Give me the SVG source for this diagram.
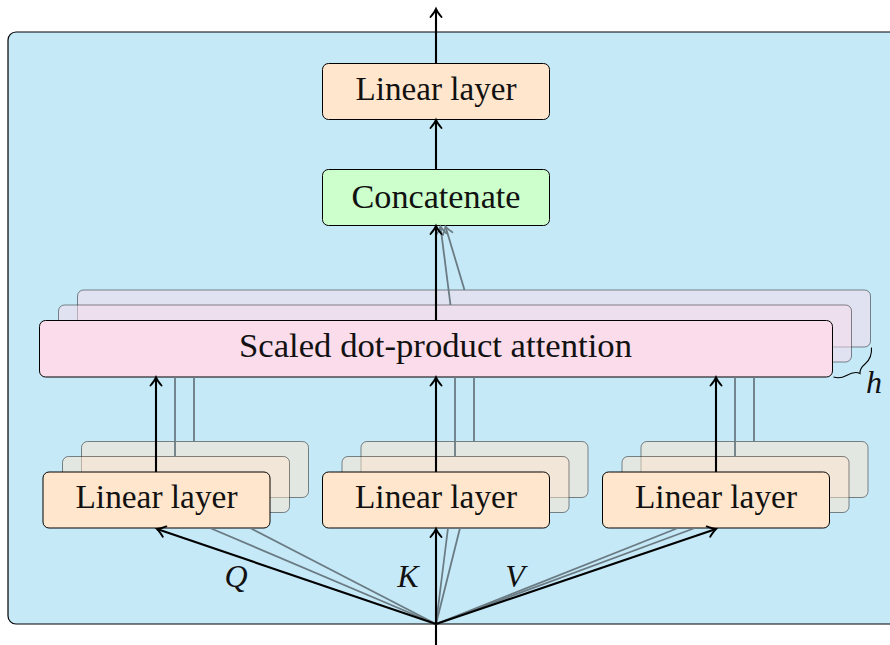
<svg xmlns="http://www.w3.org/2000/svg" width="890" height="645" viewBox="0 0 890 645">
  <style>
    .panel { fill: #c6e9f8; stroke: #000; stroke-width: 1.2; }
    .box { stroke: #000; stroke-width: 1; }
    .ghost { fill-opacity: 0.5; stroke-opacity: 0.45; }
    .linear { fill: #ffe6cc; }
    .concat { fill: #ccffcc; }
    .attn { fill: #fadcea; }
    .txt { font-family: "Liberation Serif", "Times New Roman", serif; font-size: 33px; fill: #111; text-anchor: middle; }
    .lab { font-style: italic; font-size: 32px; }
    .main { fill: none; stroke: #000; stroke-width: 2.1; }
    .main-arrow { marker-end: url(#arrow); }
    .side { fill: none; stroke: #6a7b83; stroke-width: 1.8; }
    .side-arrow { marker-end: url(#arrow-gray); }
    .brace { fill: none; stroke: #000; stroke-width: 1.1; }
  </style>
  <defs>
    <marker id="arrow" markerUnits="userSpaceOnUse" markerWidth="18" markerHeight="18" viewBox="-9 -9 18 18" refX="0" refY="0" orient="auto" overflow="visible">
      <path d="M-8,-5.5 Q-3,-1.3 0,0 Q-3,1.3 -8,5.5" fill="none" stroke="#000" stroke-width="1.9" stroke-linecap="round"/>
    </marker>
    <marker id="arrow-gray" markerUnits="userSpaceOnUse" markerWidth="18" markerHeight="18" viewBox="-9 -9 18 18" refX="0" refY="0" orient="auto" overflow="visible">
      <path d="M-7.5,-5 Q-2.8,-1.2 0,0 Q-2.8,1.2 -7.5,5" fill="none" stroke="#6a7b83" stroke-width="1.7" stroke-linecap="round"/>
    </marker>
  </defs>

  <!-- multi-head attention block -->
  <rect id="panel" class="panel" x="8" y="32" width="900" height="592" rx="8"/>

  <!-- output projection -->
  <g id="out-linear">
    <rect class="box linear" x="322.5" y="63.5" width="227" height="56" rx="6"/>
    <text class="txt" x="436" y="100" textLength="161" lengthAdjust="spacingAndGlyphs">Linear layer</text>
  </g>

  <g id="concat">
    <rect class="box concat" x="322.5" y="169.5" width="227" height="56" rx="6"/>
    <text class="txt" x="436" y="208" textLength="169" lengthAdjust="spacingAndGlyphs">Concatenate</text>
  </g>

  <!-- h parallel attention heads -->
  <g id="attention">
    <rect class="box attn ghost" x="77.5" y="290" width="793" height="57" rx="6"/>
    <rect class="box attn ghost" x="58.5" y="305" width="793" height="57" rx="6"/>
    <rect class="box attn" x="39.5" y="320.5" width="793" height="56.5" rx="6"/>
    <text class="txt" x="435.5" y="357" textLength="393" lengthAdjust="spacingAndGlyphs">Scaled dot-product attention</text>
  </g>

  <g id="heads-brace">
    <path class="brace" d="M833.5,377 C838,378.5 842,378 846.5,375.5 C851,373 856,371.5 860,373.5 C859.5,370 862,366.5 865.5,363.5 C869.5,360 872,355 871.5,347.5"/>
    <text class="txt lab" x="874" y="393">h</text>
  </g>

  <!-- input projections -->
  <g id="linear-q">
    <rect class="box linear ghost" x="81.5" y="441.5" width="227" height="56" rx="6"/>
    <rect class="box linear ghost" x="62.5" y="456.5" width="227" height="56" rx="6"/>
    <rect class="box linear" x="43" y="472" width="227" height="56" rx="6"/>
    <text class="txt" x="156.5" y="508" textLength="162" lengthAdjust="spacingAndGlyphs">Linear layer</text>
  </g>

  <g id="linear-k">
    <rect class="box linear ghost" x="361" y="441.5" width="227" height="56" rx="6"/>
    <rect class="box linear ghost" x="342" y="456.5" width="227" height="56" rx="6"/>
    <rect class="box linear" x="322.5" y="472" width="227" height="56" rx="6"/>
    <text class="txt" x="436" y="508" textLength="162" lengthAdjust="spacingAndGlyphs">Linear layer</text>
  </g>

  <g id="linear-v">
    <rect class="box linear ghost" x="641" y="441.5" width="227" height="56" rx="6"/>
    <rect class="box linear ghost" x="622" y="456.5" width="227" height="56" rx="6"/>
    <rect class="box linear" x="602.5" y="472" width="227" height="56" rx="6"/>
    <text class="txt" x="716" y="508" textLength="162" lengthAdjust="spacingAndGlyphs">Linear layer</text>
  </g>

  <g id="connectors">
    <!-- input fan-out to Q, K, V projections -->
    <line class="main" x1="436" y1="645" x2="436" y2="624"/>
    <line class="side" x1="436" y1="624" x2="210" y2="528"/>
    <line class="side" x1="436" y1="624" x2="250" y2="528"/>
    <line class="side" x1="436" y1="624" x2="448" y2="528"/>
    <line class="side" x1="436" y1="624" x2="460" y2="528"/>
    <line class="side" x1="436" y1="624" x2="678" y2="528"/>
    <line class="side" x1="436" y1="624" x2="695" y2="528"/>
    <line class="main main-arrow" x1="436" y1="624" x2="157" y2="529"/>
    <line class="main main-arrow" x1="436" y1="624" x2="436" y2="529"/>
    <line class="main main-arrow" x1="436" y1="624" x2="716" y2="529"/>

    <!-- projections into attention heads -->
    <line class="side" x1="175" y1="456.5" x2="175" y2="377"/>
    <line class="side" x1="194" y1="441.5" x2="194" y2="377"/>
    <line class="side" x1="455" y1="456.5" x2="455" y2="377"/>
    <line class="side" x1="474" y1="441.5" x2="474" y2="377"/>
    <line class="side" x1="735" y1="456.5" x2="735" y2="377"/>
    <line class="side" x1="754" y1="441.5" x2="754" y2="377"/>
    <line class="main main-arrow" x1="156" y1="472" x2="156" y2="377.5"/>
    <line class="main main-arrow" x1="436" y1="472" x2="436" y2="377.5"/>
    <line class="main main-arrow" x1="716" y1="472" x2="716" y2="377.5"/>

    <!-- heads into concatenation -->
    <line class="side side-arrow" x1="450.5" y1="305" x2="440.5" y2="226.5"/>
    <line class="side side-arrow" x1="464.5" y1="290" x2="445.5" y2="226.5"/>
    <line class="main main-arrow" x1="436" y1="320.5" x2="436" y2="226"/>

    <!-- output path -->
    <line class="main main-arrow" x1="436" y1="169.5" x2="436" y2="120"/>
    <line class="main main-arrow" x1="436" y1="63.5" x2="436" y2="9"/>
  </g>

  <g id="labels">
    <text class="txt lab" x="236" y="587">Q</text>
    <text class="txt lab" x="408" y="587">K</text>
    <text class="txt lab" x="515" y="587">V</text>
  </g>
</svg>
